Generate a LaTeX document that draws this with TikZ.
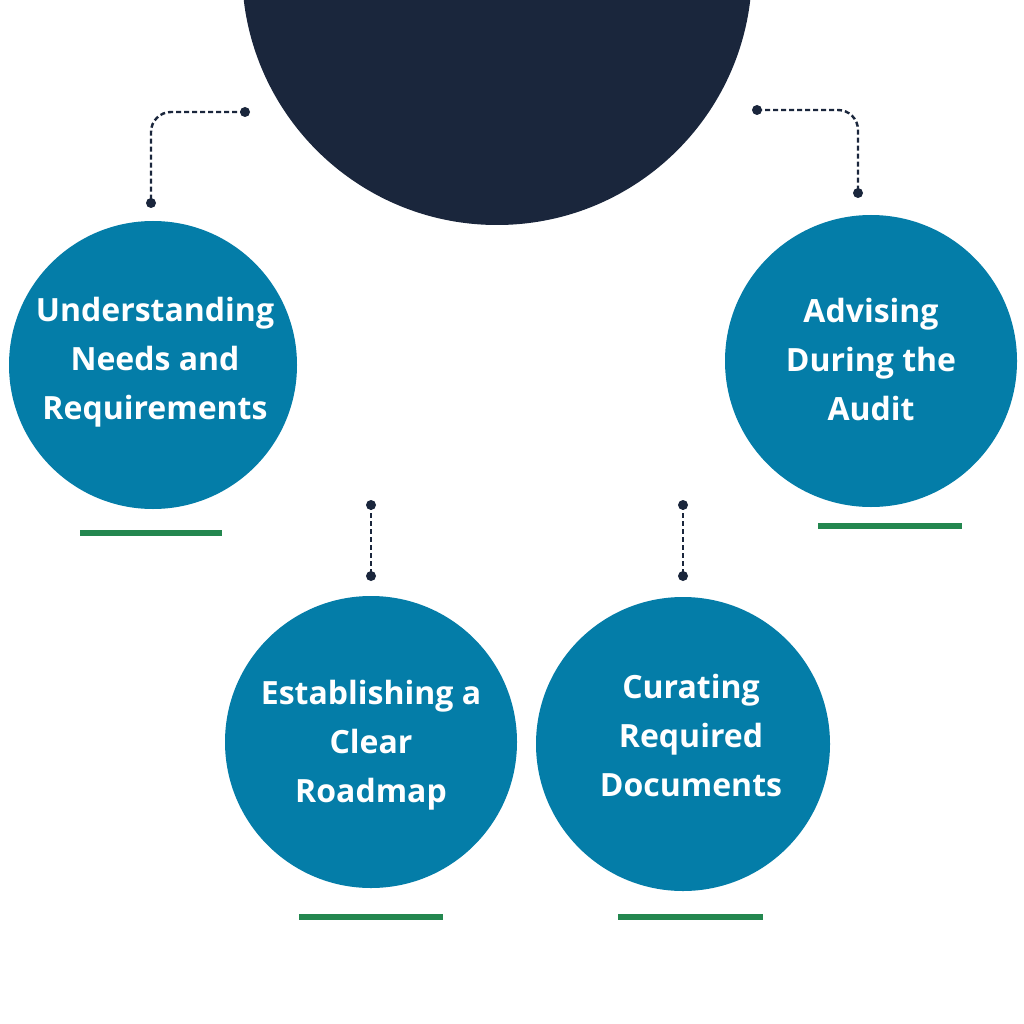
\documentclass[tikz,border=0pt]{standalone}
\usepackage{fontspec}
\setmainfont{Open Sans}
\definecolor{navy}{HTML}{1A263C}
\definecolor{teal}{HTML}{047DA8}
\definecolor{grn}{HTML}{23874F}
\begin{document}
\begin{tikzpicture}[x=1pt,y=-1pt,
  stepcircle/.style={circle,fill=teal,inner sep=0pt},
  lbl/.style={text=white,font=\fontsize{32}{49}\selectfont\bfseries,align=center},
  conn/.style={navy,line width=2.4pt,dash pattern=on 5pt off 3pt},
  dotc/.style={circle,fill=navy,inner sep=0pt,minimum size=10pt},
  uline/.style={grn,line width=6pt}]
\useasboundingbox (0,0) rectangle (1024,1024);
\fill[white] (0,0) rectangle (1024,1024);
\begin{scope}
\clip (0,0) rectangle (1024,1024);
\fill[navy] (497,-30) circle (255);
\end{scope}
\node[stepcircle,minimum size=288pt] (c1) at (153,365) {};
\node[stepcircle,minimum size=292pt] (c2) at (871,361) {};
\node[stepcircle,minimum size=292pt] (c3) at (371,742) {};
\node[stepcircle,minimum size=294pt] (c4) at (683,744) {};
\node[lbl] (t1) at (155,362) {Understanding\\Needs and\\Requirements};
\node[lbl] (t2) at (871,359) {Advising\\During the\\Audit};
\node[lbl] (t3) at (371,745) {Establishing a\\Clear\\Roadmap};
\node[lbl] (t4) at (691,735) {Curating\\Required\\Documents};
% connectors
\node[dotc] (a1) at (245,112) {};
\node[dotc] (a2) at (151,203) {};
\coordinate (k1) at (151,112);
\draw[conn,rounded corners=20pt] (a1.center) -- (k1) -- (a2.center);
\node[dotc] (b1) at (757,110) {};
\node[dotc] (b2) at (858,193) {};
\coordinate (k2) at (858,110);
\draw[conn,rounded corners=20pt] (b1.center) -- (k2) -- (b2.center);
\node[dotc] (m1) at (371,505) {};
\node[dotc] (m2) at (371,576) {};
\draw[conn] (m1.center) -- (m2.center);
\node[dotc] (n1) at (683,505) {};
\node[dotc] (n2) at (683,576) {};
\draw[conn] (n1.center) -- (n2.center);
% underlines
\coordinate (u1a) at (80,533); \coordinate (u1b) at (222,533);
\draw[uline] (u1a) -- (u1b);
\coordinate (u2a) at (818,526); \coordinate (u2b) at (962,526);
\draw[uline] (u2a) -- (u2b);
\coordinate (u3a) at (299,917); \coordinate (u3b) at (443,917);
\draw[uline] (u3a) -- (u3b);
\coordinate (u4a) at (618,917); \coordinate (u4b) at (763,917);
\draw[uline] (u4a) -- (u4b);
\end{tikzpicture}
\end{document}
